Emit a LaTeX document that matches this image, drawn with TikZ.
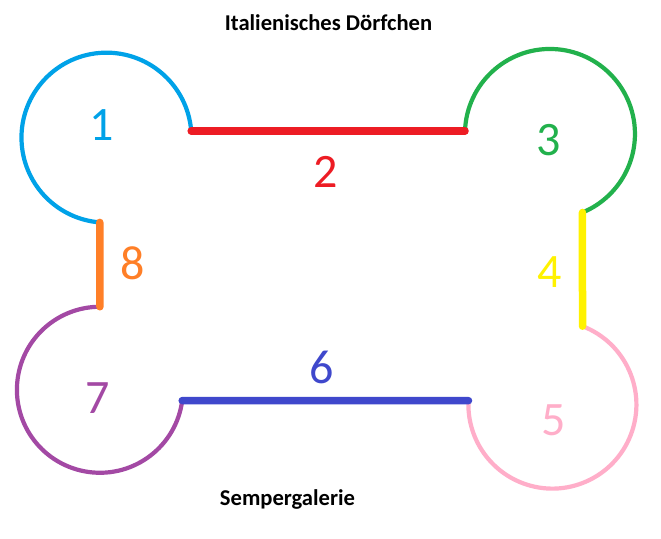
\documentclass[tikz,border=0pt]{standalone}
\usepackage{fontspec}
\setmainfont{Carlito}
\definecolor{pcyan}{HTML}{00A2E8}
\definecolor{pred}{HTML}{ED1C24}
\definecolor{pgreen}{HTML}{22B14C}
\definecolor{pyellow}{HTML}{FFF200}
\definecolor{ppink}{HTML}{FFAEC9}
\definecolor{pblue}{HTML}{3F48CC}
\definecolor{ppurple}{HTML}{A349A4}
\definecolor{porange}{HTML}{FF7F27}
\tikzset{
  arcline/.style={line width=4.2pt},
  barline/.style={line width=7.5pt, line cap=round},
  num/.style={inner sep=0pt, font=\fontsize{48}{48}\selectfont},
  title/.style={inner sep=0pt, anchor=base, font=\fontsize{22.6}{22.6}\selectfont\bfseries}
}
\begin{document}
\begin{tikzpicture}[x=1pt,y=1pt]
\useasboundingbox[fill=white] (0,0) rectangle (661,538);
% junctions
\coordinate (j12) at (191.2,407);
\coordinate (j23) at (465,407);
\coordinate (j45) at (582.5,211.8);
\coordinate (j76) at (182.2,137.4);
% arcs
\draw[arcline, pcyan] (j12) arc[start angle=4.5, end angle=265.5, radius=85] coordinate (j81);
\draw[arcline, pgreen] (j23) arc[start angle=178, end angle=-67.5, radius=85] coordinate (j34);
\draw[arcline, ppink] (j45) arc[start angle=69, end angle=-182.7, radius=84] coordinate (j65);
\draw[arcline, ppurple] (j76) arc[start angle=-7.5, end angle=-270, radius=83] coordinate (j87);
% bars
\draw[barline, pred] (j12) -- (j23);
\draw[barline, pyellow] (j34) -- (j45);
\draw[barline, pblue] (j65) -- (j76);
\draw[barline, porange] (j87) -- (j81);
% labels
\node[num, pcyan] (n1) at (102,413) {1};
\node[num, pred] (n2) at (326,366) {2};
\node[num, pgreen] (n3) at (549,398) {3};
\node[num, pyellow] (n4) at (550,266) {4};
\node[num, ppink] (n5) at (554,118) {5};
\node[num, pblue] (n6) at (322,171) {6};
\node[num, ppurple] (n7) at (98,140) {7};
\node[num, porange] (n8) at (133,275) {8};
\node[title] (t1) at (328.5,507) {Italienisches Dörfchen};
\node[title] (t2) at (287.5,33) {Sempergalerie};
\end{tikzpicture}
\end{document}
